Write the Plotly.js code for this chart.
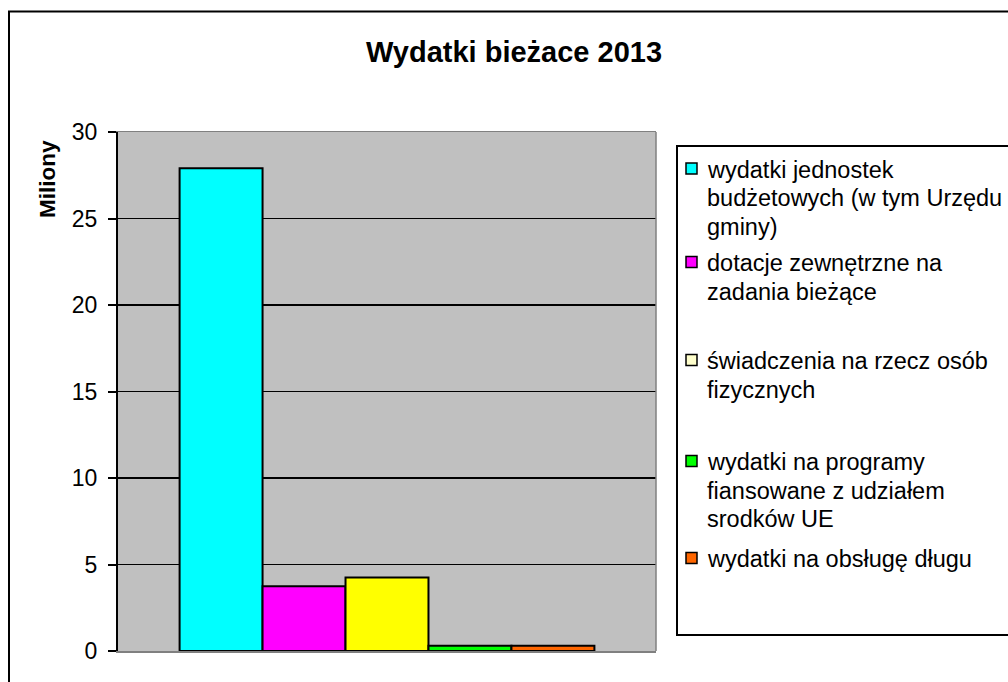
<!DOCTYPE html>
<html>
<head>
<meta charset="utf-8">
<script src="https://cdn.plot.ly/plotly-3.0.1.min.js"></script>
<style>
  html, body { margin: 0; padding: 0; background: #ffffff; overflow: hidden; }
  #chart { width: 1008px; height: 682px; }
</style>
</head>
<body>
<div id="chart"></div>
<script>
// ---- data ----
const chartTitle = 'Wydatki bieżace 2013';
const yAxisTitle = 'Miliony';
const category = ['2013'];
const seriesNames = [
  'wydatki jednostek budżetowych (w tym Urzędu gminy)',
  'dotacje zewnętrzne na zadania bieżące',
  'świadczenia na rzecz osób fizycznych',
  'wydatki na programy fiansowane z udziałem srodków UE',
  'wydatki na obsługę długu'
];
const seriesValues = [27.9, 3.75, 4.25, 0.3, 0.3];
const barColors = ['#00FFFF', '#FF00FF', '#FFFF00', '#00FF00', '#FF6600'];
const swatchColors = ['#00FFFF', '#FF00FF', '#FFFFCC', '#00FF00', '#FF6600'];
const yTickVals = [0, 5, 10, 15, 20, 25, 30];

// ---- geometry (pixels) ----
const W = 1008, H = 682, ML = 118, MR = 352, MT = 132, MB = 31;
const PW = W - ML - MR, PH = H - MT - MB;
const FONT = 'Arial, "Liberation Sans", Helvetica, sans-serif';
function px(x) { return (x - ML) / PW; }
function py(y) { return (H - MB - y) / PH; }

const legendFirstLine = [169.5, 263, 361, 462, 559];
const lineStep = 28.5;
const legendFontSize = 23.5;
const legendMaxWidth = 300;

function wrapText(text, maxW, size) {
  const c = document.createElement('canvas').getContext('2d');
  c.font = size + 'px ' + FONT;
  const words = text.split(' ');
  const lines = [];
  let cur = '';
  words.forEach(w => {
    const t = cur ? cur + ' ' + w : w;
    if (cur && c.measureText(t).width > maxW) { lines.push(cur); cur = w; }
    else cur = t;
  });
  if (cur) lines.push(cur);
  return lines;
}

const traces = seriesNames.map((n, i) => ({
  type: 'bar',
  name: n,
  x: category,
  y: [seriesValues[i]],
  marker: { color: barColors[i], line: { color: '#000000', width: 2 } },
  showlegend: false,
  hoverinfo: 'skip'
}));

const shapes = [
  // outer chart border
  { type: 'rect', xref: 'paper', yref: 'paper', x0: px(9), x1: px(1040), y0: py(720), y1: py(11.5),
    line: { color: '#000000', width: 2 }, fillcolor: 'rgba(0,0,0,0)', layer: 'above' },
  // right plot border
  { type: 'line', xref: 'paper', yref: 'paper', x0: 1, x1: 1, y0: 0, y1: 1,
    line: { color: '#808080', width: 1.5 }, layer: 'above' },
  // legend box
  { type: 'rect', xref: 'paper', yref: 'paper', x0: px(677), x1: px(1040), y0: py(635), y1: py(146),
    line: { color: '#000000', width: 2 }, fillcolor: '#ffffff', layer: 'above' }
];

const annotations = [
  { text: yAxisTitle, xref: 'paper', yref: 'paper', x: px(47), y: py(179), textangle: -90,
    showarrow: false, xanchor: 'center', yanchor: 'middle',
    font: { family: FONT, size: 22.5, color: '#000000', weight: 'bold' } }
];

seriesNames.forEach((n, i) => {
  const c = legendFirstLine[i] - 1;
  shapes.push({ type: 'rect', xref: 'paper', yref: 'paper', x0: px(686), x1: px(697),
    y0: py(c + 5.5), y1: py(c - 5.5), fillcolor: swatchColors[i],
    line: { color: '#000000', width: 1.5 }, layer: 'above' });
  wrapText(n, legendMaxWidth, legendFontSize).forEach((ln, k) => {
    annotations.push({ text: ln, xref: 'paper', yref: 'paper', x: px(705),
      y: py(legendFirstLine[i] + k * lineStep), xanchor: 'left', yanchor: 'middle',
      showarrow: false, font: { family: FONT, size: legendFontSize, color: '#000000' } });
  });
});

const layout = {
  width: W, height: H,
  margin: { l: ML, r: MR, t: MT, b: MB, pad: 0 },
  paper_bgcolor: '#ffffff',
  plot_bgcolor: '#C0C0C0',
  title: { text: chartTitle, xref: 'container', x: 514 / W, xanchor: 'center',
    yref: 'container', y: 1 - 52 / H, yanchor: 'middle',
    font: { family: FONT, size: 29, color: '#000000', weight: 'bold' } },
  barmode: 'group', bargap: 0.229, bargroupgap: 0,
  hovermode: false,
  xaxis: { type: 'category', showticklabels: false, ticks: '', showgrid: false, zeroline: false,
    showline: true, linecolor: '#808080', linewidth: 1.5, mirror: true, fixedrange: true },
  yaxis: { range: [0, 30], tickvals: yTickVals, ticks: 'outside', ticklen: 8, tickwidth: 2,
    tickcolor: '#000000', showline: true, linecolor: '#000000', linewidth: 2,
    showgrid: true, gridcolor: '#000000', gridwidth: 1.5, zeroline: false,
    ticklabelstandoff: 6,
    tickfont: { family: FONT, size: 23, color: '#000000' }, fixedrange: true },
  shapes: shapes,
  annotations: annotations,
  font: { family: FONT, color: '#000000' }
};

Plotly.newPlot('chart', traces, layout, { staticPlot: true, displayModeBar: false });
</script>
</body>
</html>
